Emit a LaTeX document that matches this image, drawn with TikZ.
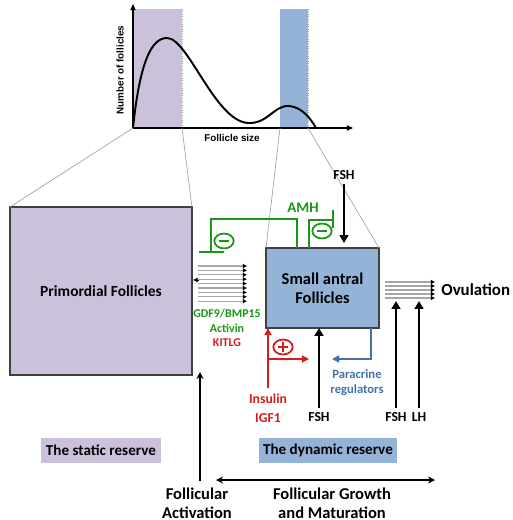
\documentclass[tikz,border=0pt]{standalone}
\usepackage{fontspec}
\setmainfont{Carlito}
\newfontfamily\plotfont{Liberation Sans}
\usetikzlibrary{arrows.meta}
\usetikzlibrary{positioning}
\usetikzlibrary{shapes.geometric}

\definecolor{primfill}{RGB}{204,193,219}
\definecolor{antfill}{RGB}{149,179,215}
\definecolor{amhgreen}{RGB}{24,150,24}
\definecolor{insred}{RGB}{214,28,28}
\definecolor{parablue}{RGB}{70,112,170}

\tikzset{
  box/.style={draw=black!75, line width=0.6pt, outer sep=0pt, inner sep=0pt},
  reserve/.style={outer sep=0pt, inner sep=0pt, minimum height=0.5cm,
    font=\fontsize{8.6}{10}\selectfont\bfseries},
  lbl/.style={font=\fontsize{7.2}{8.6}\selectfont\bfseries, align=center, inner sep=0pt},
  fsh/.style={font=\fontsize{7.8}{9}\selectfont\bfseries, inner sep=0pt},
  big/.style={font=\fontsize{9.4}{10.6}\selectfont\bfseries, align=center, inner sep=0pt},
  hormone/.style={line width=1.3pt, -{Triangle[length=4.5pt,width=5pt]}},
  thinarrow/.style={line width=0.7pt, -{Stealth[length=4pt,width=4pt]}},
  inhib/.style={amhgreen, line width=1.1pt},
  sign/.style={draw, ellipse, line width=1pt, minimum width=11pt, minimum height=8.5pt,
    inner sep=0pt},
  stripe/.style={gray!70, line width=0.6pt, -{Latex[length=2.4pt,width=2.8pt,color=black]}},
  guide/.style={gray!70, line width=0.4pt}
}

\begin{document}
\begin{tikzpicture}[x=0.02cm, y=-0.02cm]
    \useasboundingbox (0,0) rectangle (512,520);

    % size distribution
    \fill[primfill] (134,9) rectangle (182,128);
    \fill[antfill] (280,9) rectangle (308,128);
    \draw[guide, densely dotted] (182,9) -- (182,128);
    \draw[guide, densely dotted] (308,9) -- (308,128);
    \draw[line width=0.6pt, -{Triangle[length=3.5pt,width=3pt]}] (133,128) -- (133,4);
    \draw[line width=0.6pt, -{Triangle[length=3.5pt,width=3pt]}] (133,128) -- (353,128);
    \draw[line width=1.1pt] (133,128) .. controls (140,60) and (152,38) .. (167,38)
      .. controls (188,38) and (215,121) .. (248,123)
      .. controls (268,124) and (274,105) .. (289,106)
      .. controls (302,107) and (311,119) .. (316,128);
    \node (ylab) [rotate=90, font=\plotfont\fontsize{5.6}{6}\selectfont\bfseries] at (120,70) {Number of follicles};
    \node (xlab) [font=\plotfont\fontsize{5.6}{6}\selectfont\bfseries] at (232,138) {Follicle size};

    % the two pools
    \node (prim) [box, fill=primfill, minimum width=3.64cm, minimum height=3.36cm,
      font=\fontsize{8.8}{10}\selectfont\bfseries] at (101,291) {Primordial Follicles};
    \node (antral) [box, fill=antfill, minimum width=2.26cm, minimum height=1.6cm,
      big] at (322.5,288) {Small antral\\Follicles};
    \draw[guide] (133,128) -- (prim.north west);
    \draw[guide] (182,128) -- (prim.north east);
    \draw[guide] (280,128) -- (antral.north west);
    \draw[guide] (308,128) -- (antral.north east);

    \node (static) [reserve, fill=primfill, minimum width=2.4cm] at (101,450) {The static reserve};
    \node (dynamic) [reserve, fill=antfill, minimum width=2.76cm] at (328,450) {The dynamic reserve};

    % AMH feedback
    \node (amh) [big, font=\fontsize{8.4}{10}\selectfont\bfseries, text=amhgreen] at (303,208) {AMH};
    \draw[inhib] (297,248) -- (297,219) -- (211,219) -- (211,252);
    \draw[inhib] (199,252) -- (224,252);
    \draw[inhib] (309,248) -- (309,220) -- (333,220);
    \draw[inhib] (333,210) -- (333,228);
    \node (minA) [sign, amhgreen] at (224,241) {};
    \draw[inhib] ([xshift=-3pt]minA.center) -- ([xshift=3pt]minA.center);
    \node (minB) [sign, amhgreen] at (322,231) {};
    \draw[inhib] ([xshift=-3pt]minB.center) -- ([xshift=3pt]minB.center);

    % oocyte factors
    \foreach \i in {0,...,8}
      \draw[stripe] (198,266+4.4*\i) -- (247,266+4.4*\i);
    \draw[black, -{Latex[length=2.6pt,width=2.8pt]}] (199,280) -- (193,280);
    \node (oocyte) [lbl, font=\fontsize{6.8}{8.4}\selectfont\bfseries] at (227,328)
      {\textcolor{amhgreen}{GDF9/BMP15}\\\textcolor{amhgreen}{Activin}\\\textcolor{insred}{KITLG}};

    % FSH from above
    \node (fshtop) [fsh] at (344,175) {FSH};
    \draw[hormone] (fshtop.south) ++(0,4) -- (344,243);

    % insulin / IGF1
    \node (ins) [lbl, font=\fontsize{7.8}{10.8}\selectfont\bfseries, text=insred] at (268,408) {Insulin\\IGF1};
    \coordinate (insBranch) at (268,359);
    \draw[insred, line width=0.9pt, -{Triangle[length=4pt,width=4pt]}] (268,388) -- (antral.south -| ins);
    \draw[insred, line width=0.9pt, -{Triangle[length=4pt,width=4pt]}] (insBranch) -- (309,359);
    \node (plus) [sign, insred] at (283,347) {};
    \draw[insred, line width=1pt] ([xshift=-3pt]plus.center) -- ([xshift=3pt]plus.center)
      ([yshift=-3pt]plus.center) -- ([yshift=3pt]plus.center);

    % FSH below
    \node (fshA) [fsh] at (319,417) {FSH};
    \draw[hormone] (fshA.north) ++(0,-4) -- (antral.south -| fshA);

    % paracrine
    \node (para) [lbl, text=parablue] at (357,383) {Paracrine\\regulators};
    \draw[parablue, line width=0.9pt, -{Triangle[length=4pt,width=4pt]}] (371,328) -- (371,359) -- (332,359);

    % ovulation
    \foreach \i in {0,...,4}
      \draw[stripe] (385,282+4*\i) -- (435,282+4*\i);
    \node (ovul) [big, anchor=west, font=\fontsize{9.6}{10}\selectfont\bfseries] at (441,290) {Ovulation};
    \node (fshB) [fsh] at (396,417) {FSH};
    \node (lh) [fsh] at (419,417) {LH};
    \draw[hormone] (fshB.north) ++(0,-4) -- (396,301);
    \draw[hormone] (lh.north) ++(0,-4) -- (419,301);

    % timeline
    \coordinate (actTop) at (200,372);
    \coordinate (actBot) at (200,481);
    \draw[thinarrow] (actBot) -- (actTop);
    \node (activ) [big] at (197,503) {Follicular\\Activation};
    \coordinate (grL) at (216,480);
    \coordinate (grR) at (435,480);
    \draw[line width=0.7pt, {Stealth[length=4pt,width=4pt]}-{Stealth[length=4pt,width=4pt]}] (grL) -- (grR);
    \node (growth) [big] at (332,503) {Follicular Growth\\and Maturation};
  \end{tikzpicture}
\end{document}
